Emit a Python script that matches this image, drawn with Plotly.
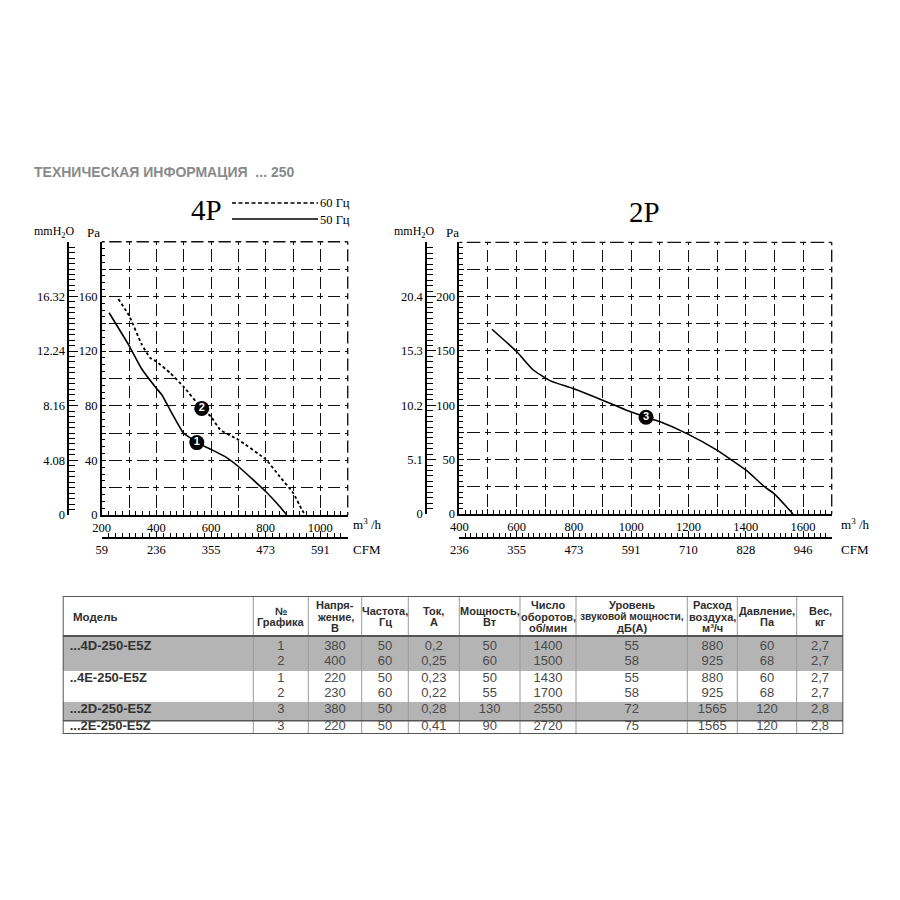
import plotly.graph_objects as go

W, H = 900, 900
OFF = 8  # page offset of the figure inside the browser page

# ---------------- data: 4P chart (flow m3/h, pressure Pa) ----------------
flow_4p_50 = [227, 300, 346, 399, 420, 450, 499, 520, 548, 600, 657, 700, 801, 852, 877]
pa_4p_50 = [148, 124, 107, 93, 88, 77, 60, 57, 53, 48, 42, 35.5, 17, 6, 0]
flow_4p_60 = [261, 300, 346, 377, 399, 450, 499, 566, 600, 633, 700, 801, 852, 901, 932, 944]
pa_4p_60 = [158, 146, 125, 115, 112.5, 104, 94, 78, 72, 62.5, 55, 40.5, 28, 16, 4, 0]

# ---------------- data: 2P chart ----------------
flow_2p = [514, 600, 658, 718, 797, 898, 998, 1052, 1099, 1198, 1298, 1400, 1466, 1500, 1565]
pa_2p = [170, 149.5, 132.5, 122.5, 115.5, 105, 94, 89, 85, 73.5, 59, 40.5, 25, 18.5, 0]

# curve number badges
badge_text = ["1", "2", "3"]
badge_flow = [548, 566, 1052]
badge_pa = [53, 78, 89]

# axis labels
flow_labels_4p = [200, 400, 600, 800, 1000]
cfm_labels_4p = ["59", "236", "355", "473", "591"]
pa_labels_4p = [0, 40, 80, 120, 160]
mmh2o_labels_4p = ["0", "4.08", "8.16", "12.24", "16.32"]

flow_labels_2p = [400, 600, 800, 1000, 1200, 1400, 1600]
cfm_labels_2p = ["236", "355", "473", "591", "710", "828", "946"]
pa_labels_2p = [0, 50, 100, 150, 200]
mmh2o_labels_2p = ["0", "5.1", "10.2", "15.3", "20.4"]

legend_names = ["60 Гц", "50 Гц"]

# ---------------- data: table ----------------
header_lines = [
    ["Модель"],
    ["№", "Графика"],
    ["Напря-", "жение,", "В"],
    ["Частота,", "Гц"],
    ["Ток,", "А"],
    ["Мощность,", "Вт"],
    ["Число", "оборотов,", "об/мин"],
    ["Уровень", "звуковой мощности,", "дБ(А)"],
    ["Расход", "воздуха,", "м³/ч"],
    ["Давление,", "Па"],
    ["Вес,", "кг"],
]
models = ["...4D-250-E5Z", "..4E-250-E5Z", "...2D-250-E5Z", "...2E-250-E5Z"]
model_lines = [2, 2, 1, 1]
graph_no = ["1", "2", "1", "2", "3", "3"]
voltage = ["380", "400", "220", "230", "380", "220"]
frequency = ["50", "60", "50", "60", "50", "50"]
current = ["0,2", "0,25", "0,23", "0,22", "0,28", "0,41"]
power = ["50", "60", "50", "55", "130", "90"]
rpm = ["1400", "1500", "1430", "1700", "2550", "2720"]
sound = ["55", "58", "55", "58", "72", "75"]
airflow = ["880", "925", "880", "925", "1565", "1565"]
pressure = ["60", "68", "60", "68", "120", "120"]
weight = ["2,7", "2,7", "2,7", "2,7", "2,8", "2,8"]
value_columns = [graph_no, voltage, frequency, current, power, rpm, sound, airflow, pressure, weight]

# ---------------- styling ----------------
SERIF = "Liberation Serif, Times New Roman, serif"
SANS = "Liberation Sans, Arial, sans-serif"
GRID = "#111111"


def fx(px):
    return (px - OFF) / W


def fy(py):
    return 1 - (py - OFF) / H


def dash(P, a=3.0, g=4.5):
    d = max(P - 2 * a - 2 * g, 1)
    return f"{a:.2f}px,{g:.2f}px,{d:.2f}px,{g:.2f}px,{a:.2f}px,0px"


def lk(a):
    return a[0] + "axis" + a[1:]


fig = go.Figure()
layout_axes = {}
shapes = []
annotations = []


def setup_chart(xa, ya, xc, ym, box, xr, xg, xminor, yr, yg, yminor, mm_minor, mm_pos,
                flow_labels, cfm_labels, pa_labels, mm_labels):
    left, right, top, bottom = box
    wpx, hpx = right - left, bottom - top
    Px = wpx * xg / (xr[1] - xr[0])
    Py = hpx * yg / (yr[1] - yr[0])
    xt = list(range(xr[0], xr[1] + 1, xg))
    yt = list(range(yr[0], yr[1] + 1, yg))
    tickfont = dict(family=SERIF, size=12.5, color="black")
    layout_axes[lk(xa)] = dict(
        domain=[fx(left), fx(right)], range=list(xr), anchor=ya,
        tickmode="array", tickvals=xt, ticktext=[str(v) if v in flow_labels else "" for v in xt],
        ticks="inside", ticklen=5, tickwidth=1, tickcolor="black",
        showline=True, linecolor="black", linewidth=1.5,
        showgrid=True, gridcolor=GRID, gridwidth=1.35, griddash=dash(Py),
        zeroline=False, tickfont=tickfont, fixedrange=True, automargin=False,
        minor=dict(tickmode="linear", tick0=xr[0], dtick=xminor, ticks="inside",
                   ticklen=4, tickcolor="black", tickwidth=1, showgrid=False),
    )
    layout_axes[lk(ya)] = dict(
        domain=[fy(bottom), fy(top)], range=list(yr), anchor=xa,
        tickmode="array", tickvals=yt, ticktext=[str(v) if v in pa_labels else "" for v in yt],
        ticks="inside", ticklen=5, tickwidth=1, tickcolor="black",
        showline=True, linecolor="black", linewidth=1.5,
        showgrid=True, gridcolor=GRID, gridwidth=1.35, griddash=dash(Px),
        zeroline=False, tickfont=tickfont, fixedrange=True, automargin=False,
        minor=dict(tickmode="linear", tick0=yr[0], dtick=yminor, ticks="inside",
                   ticklen=4, tickcolor="black", tickwidth=1, showgrid=False),
    )
    # CFM scale
    layout_axes[lk(xc)] = dict(
        overlaying=xa, anchor="free", position=fy(538), side="bottom", range=list(xr),
        tickmode="array", tickvals=flow_labels, ticktext=cfm_labels,
        ticks="inside", ticklen=6, tickwidth=1.2, tickcolor="black",
        showline=True, linecolor="black", linewidth=1.5, showgrid=False, zeroline=False,
        tickfont=tickfont, fixedrange=True, automargin=False,
        minor=dict(tickmode="linear", tick0=xr[0], dtick=xminor, ticks="inside",
                   ticklen=4, tickcolor="black", tickwidth=1, showgrid=False),
    )
    # mmH2O scale
    layout_axes[lk(ym)] = dict(
        overlaying=ya, anchor="free", position=fx(mm_pos), side="left", range=list(yr),
        tickmode="array", tickvals=pa_labels, ticktext=mm_labels,
        ticks="inside", ticklen=9, tickwidth=1.2, tickcolor="black",
        showline=True, linecolor="black", linewidth=1.5, showgrid=False, zeroline=False,
        tickfont=tickfont, fixedrange=True, automargin=False,
        minor=dict(tickmode="linear", tick0=yr[0], dtick=mm_minor, ticks="inside",
                   ticklen=6, tickcolor="black", tickwidth=1, showgrid=False),
    )
    # invisible traces so the extra scales are drawn
    fig.add_trace(go.Scatter(x=[None], y=[None], xaxis=xc, yaxis=ya, showlegend=False, hoverinfo="skip"))
    fig.add_trace(go.Scatter(x=[None], y=[None], xaxis=xa, yaxis=ym, showlegend=False, hoverinfo="skip"))
    # dashed top and right frame (same pattern as the grid)
    shapes.append(dict(type="line", xref=f"{xa} domain", yref=f"{ya} domain", x0=0, y0=1, x1=1, y1=1,
                       line=dict(color=GRID, width=1.35, dash=dash(Px))))
    shapes.append(dict(type="line", xref=f"{xa} domain", yref=f"{ya} domain", x0=1, y0=1, x1=1, y1=0,
                       line=dict(color=GRID, width=1.35, dash=dash(Py))))


setup_chart("x", "y", "x3", "y3", (101.7, 347.7, 241.7, 515.0), (200, 1100), 100, 25,
            (0, 200), 20, 5, 4, 68.3, flow_labels_4p, cfm_labels_4p, pa_labels_4p, mmh2o_labels_4p)
setup_chart("x2", "y2", "x4", "y4", (459.3, 831.7, 242.3, 514.0), (400, 1700), 100, 20,
            (0, 250), 25, 5, 5, 426.0, flow_labels_2p, cfm_labels_2p, pa_labels_2p, mmh2o_labels_2p)

# ---------------- curves ----------------
fig.add_trace(go.Scatter(x=flow_4p_60, y=pa_4p_60, mode="lines", name=legend_names[0],
                         line=dict(color="black", width=1.8, dash="3px,2.5px", shape="spline", smoothing=0.4),
                         xaxis="x", yaxis="y", showlegend=False))
fig.add_trace(go.Scatter(x=flow_4p_50, y=pa_4p_50, mode="lines", name=legend_names[1],
                         line=dict(color="black", width=1.6, shape="spline", smoothing=0.4),
                         xaxis="x", yaxis="y", showlegend=False))
fig.add_trace(go.Scatter(x=flow_2p, y=pa_2p, mode="lines", name="2P",
                         line=dict(color="black", width=1.6, shape="spline", smoothing=0.4),
                         xaxis="x2", yaxis="y2", showlegend=False))

badge_style = dict(mode="markers+text", marker=dict(size=15, color="black"),
                   textposition="middle center",
                   textfont=dict(color="white", size=11, family=SANS), showlegend=False,
                   cliponaxis=False)
fig.add_trace(go.Scatter(x=badge_flow[:2], y=badge_pa[:2], text=[f"<b>{t}</b>" for t in badge_text[:2]],
                         xaxis="x", yaxis="y", **badge_style))
fig.add_trace(go.Scatter(x=badge_flow[2:], y=badge_pa[2:], text=[f"<b>{t}</b>" for t in badge_text[2:]],
                         xaxis="x2", yaxis="y2", **badge_style))


# ---------------- texts around charts ----------------
def note(text, x, y, size=13, family=SERIF, color="black", xanchor="center"):
    annotations.append(dict(text=text, x=fx(x), y=fy(y), xref="paper", yref="paper",
                            showarrow=False, xanchor=xanchor, yanchor="middle", borderpad=0,
                            font=dict(family=family, size=size, color=color)))


note("<b>ТЕХНИЧЕСКАЯ ИНФОРМАЦИЯ  ... 250</b>", 33, 172, size=14, family=SANS, color="#8a8a8a", xanchor="left")
note("4P", 206, 210, size=29)
note("2P", 644, 212, size=29)
for xm, xp in [(54, 93), (414, 452)]:
    note("mmH<sub>2</sub>O", xm, 232, size=12)
    note("Pa", xp, 232, size=13)
for xl in [352, 840]:
    note("m<sup>3</sup> /h", xl, 524, size=13, xanchor="left")
    note("CFM", xl, 549, size=13, xanchor="left")

# legend key
shapes.append(dict(type="line", xref="paper", yref="paper", x0=fx(232), x1=fx(318), y0=fy(203), y1=fy(203),
                   line=dict(color="black", width=1.6, dash="4px,2.5px")))
shapes.append(dict(type="line", xref="paper", yref="paper", x0=fx(232), x1=fx(318), y0=fy(219), y1=fy(219),
                   line=dict(color="black", width=1.6)))
note(legend_names[0], 319, 203, size=12.5, xanchor="left")
note(legend_names[1], 319, 220, size=12.5, xanchor="left")

# ---------------- table ----------------
T_LEFT, T_RIGHT, T_TOP, T_BOTTOM = 62.7, 843.3, 596.0, 734.0
col_w = [190.6, 55, 53.4, 46.6, 51, 60.7, 56, 111.3, 50, 59.4, 46.6]
edges = [0]
for w in col_w:
    edges.append(edges[-1] + w)
T_W, T_H = edges[-1], T_BOTTOM - T_TOP
HEAD_H = 40
line_y = [50.7, 65.7, 82.3, 98.0, 113.3, 130.7]
bands = [(40, 75, "#b4b4b4"), (75, 106, "white"), (106, 124.7, "#b4b4b4"), (124.7, T_H, "white")]

layout_axes["xaxis5"] = dict(domain=[fx(T_LEFT), fx(T_RIGHT)], range=[0, T_W], visible=False,
                             anchor="y5", fixedrange=True)
layout_axes["yaxis5"] = dict(domain=[fy(T_BOTTOM), fy(T_TOP)], range=[T_H, 0], visible=False,
                             anchor="x5", fixedrange=True)

for y0, y1, c in bands:
    shapes.append(dict(type="rect", xref="x5", yref="y5", x0=0, x1=T_W, y0=y0, y1=y1,
                       fillcolor=c, line=dict(width=0), layer="below"))
for e in edges[1:-1]:
    shapes.append(dict(type="line", xref="x5", yref="y5", x0=e, x1=e, y0=0, y1=T_H,
                       line=dict(color="#9a9a9a", width=1)))
shapes.append(dict(type="line", xref="x5", yref="y5", x0=0, x1=T_W, y0=HEAD_H, y1=HEAD_H,
                   line=dict(color="#555555", width=2)))
shapes.append(dict(type="line", xref="x5", yref="y5", x0=0, x1=T_W, y0=124.7, y1=124.7,
                   line=dict(color="#555555", width=1.5)))
shapes.append(dict(type="rect", xref="x5", yref="y5", x0=0, x1=T_W, y0=0, y1=T_H,
                   line=dict(color="#555555", width=2), fillcolor="rgba(0,0,0,0)"))

# header text
for ci, lines in enumerate(header_lines):
    n = len(lines)
    for k, t in enumerate(lines):
        yk = 20.5 + (k - (n - 1) / 2) * 11.5
        if ci == 0:
            xk, xa_, fs = 9, "left", 11.5
        else:
            xk, xa_, fs = (edges[ci] + edges[ci + 1]) / 2, "center", 11
        if t == "звуковой мощности,":
            fs = 10.2
        annotations.append(dict(text=f"<b>{t}</b>", x=xk, y=yk, xref="x5", yref="y5", showarrow=False,
                                xanchor=xa_, yanchor="middle", borderpad=0,
                                font=dict(family=SANS, size=fs, color="#2e2e2e")))

# model names
model_y = []
idx = 0
for n in model_lines:
    model_y.append(line_y[idx])
    idx += n
fig.add_trace(go.Scatter(x=[7] * len(models), y=model_y, text=[f"<b>{m}</b>" for m in models],
                         mode="text", textposition="middle right",
                         textfont=dict(family=SANS, size=13, color="#333333"),
                         xaxis="x5", yaxis="y5", showlegend=False, hoverinfo="skip", cliponaxis=False))
# values
for ci, col in enumerate(value_columns, start=1):
    cx = (edges[ci] + edges[ci + 1]) / 2
    fig.add_trace(go.Scatter(x=[cx] * len(col), y=line_y, text=col, mode="text",
                             textposition="middle center",
                             textfont=dict(family=SANS, size=13, color="#4a4a4a"),
                             xaxis="x5", yaxis="y5", showlegend=False, hoverinfo="skip", cliponaxis=False))

fig.update_layout(
    width=W, height=H, autosize=False,
    margin=dict(l=0, r=0, t=0, b=0, pad=0, autoexpand=False),
    paper_bgcolor="white", plot_bgcolor="white",
    showlegend=False,
    shapes=shapes, annotations=annotations,
    **layout_axes,
)

fig.write_html("out.html")
